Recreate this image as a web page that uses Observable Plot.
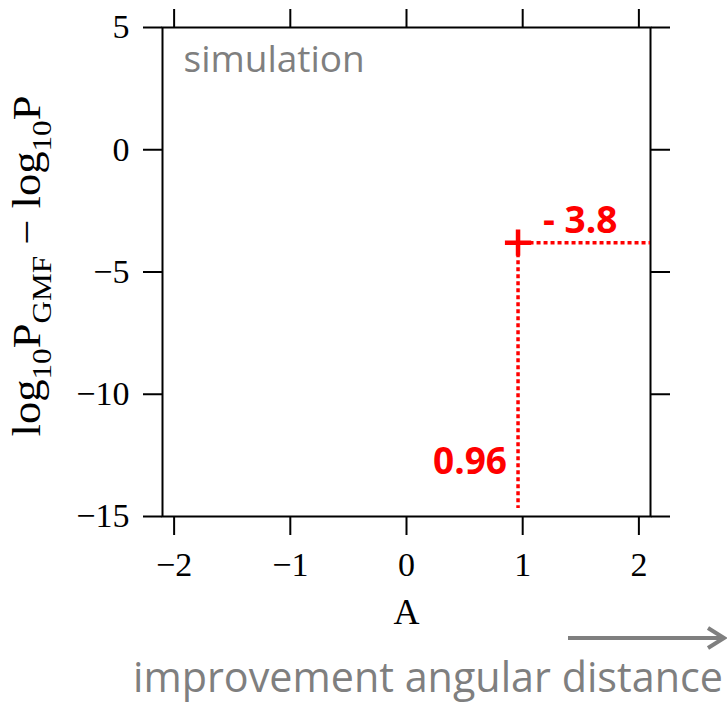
<!DOCTYPE html>
<html>
<head>
<meta charset="utf-8">
<script src="https://cdn.jsdelivr.net/npm/d3@7"></script>
<script src="https://cdn.jsdelivr.net/npm/@observablehq/plot@0.6"></script>
<style>
  body { margin: 0; background: #fff; }
  svg { display: block; }
</style>
</head>
<body>
<div id="chart"></div>
<script>
// Axis ranges and ticks
const xDomain = [-2.1, 2.1];
const yDomain = [-15, 5];
const xTicks = [-2, -1, 0, 1, 2];
const yTicks = [5, 0, -5, -10, -15];

// Best simulated configuration: A and log10 P_GMF − log10 P
const bestA = [0.96];
const bestDelta = [-3.8];

const points = bestA.map((a, i) => ({a, delta: bestDelta[i]}));

const serif = "'Liberation Serif', 'DejaVu Serif', serif";
const sans = "'Open Sans', 'Noto Sans', sans-serif";
const red = "#ff0000";
const gray = "#7f7f7f";
const fmt = d => (d < 0 ? "\u2212" + Math.abs(d) : String(d));

const plot = Plot.plot({
  width: 727,
  height: 703,
  marginLeft: 162,
  marginRight: 77,
  marginTop: 27,
  marginBottom: 187,
  x: {domain: xDomain},
  y: {domain: yDomain},
  style: {fontFamily: serif, color: "#000", background: "#fff"},
  marks: [
    Plot.frame({stroke: "#000", strokeWidth: 2}),
    Plot.axisX(xTicks, {anchor: "bottom", tickSize: 19, tickPadding: 16, strokeWidth: 2,
      tickFormat: fmt, fontSize: 34, fontFamily: serif, label: null}),
    Plot.axisX(xTicks, {anchor: "top", tickSize: 19, strokeWidth: 2, text: null, label: null}),
    Plot.axisY(yTicks, {anchor: "left", tickSize: 19, tickPadding: 14, strokeWidth: 2,
      tickFormat: fmt, fontSize: 34, fontFamily: serif, label: null}),
    Plot.axisY(yTicks, {anchor: "right", tickSize: 19, strokeWidth: 2, text: null, label: null}),
    // guide lines from the best point to the axes
    Plot.ruleX(points, {x: "a", y1: "delta", y2: yDomain[0], stroke: red, strokeWidth: 3.5,
      strokeDasharray: "4,3", insetTop: 11, insetBottom: 8}),
    Plot.ruleY(points, {y: "delta", x1: "a", x2: xDomain[1], stroke: red, strokeWidth: 3.5,
      strokeDasharray: "4,3", insetLeft: 12}),
    Plot.dot(points, {x: "a", y: "delta", symbol: "plus", r: 8.5, stroke: red, strokeWidth: 4.5}),
    // value labels
    Plot.text(points, {x: "a", frameAnchor: "bottom", text: d => d.a.toFixed(2),
      textAnchor: "end", lineAnchor: "middle", dx: -11, dy: -54,
      fill: red, fontWeight: "bold", fontSize: 37, fontFamily: sans}),
    Plot.text(points, {x: "a", y: "delta", text: d => (d.delta < 0 ? "- " : "") + Math.abs(d.delta).toFixed(1),
      textAnchor: "start", lineAnchor: "middle", dx: 25, dy: -22,
      fill: red, fontWeight: "bold", fontSize: 37, fontFamily: sans}),
    Plot.text(["simulation"], {frameAnchor: "top-left", text: d => d, textAnchor: "start",
      lineAnchor: "middle", dx: 21, dy: 33, fill: gray, fontSize: 37, fontFamily: sans}),
    Plot.text(["A"], {frameAnchor: "bottom", text: d => d, lineAnchor: "middle",
      dy: 96, fontSize: 36, fontFamily: serif, fill: "#000"})
  ]
});

const svg = d3.select(plot);

// y-axis title with subscripts
const yl = svg.append("text")
  .attr("transform", "translate(40,266) rotate(-90)")
  .attr("text-anchor", "middle")
  .attr("font-family", serif)
  .attr("font-size", 40)
  .attr("textLength", 341)
  .attr("lengthAdjust", "spacingAndGlyphs")
  .attr("fill", "#000");
const sub = 28, shift = 11;
yl.append("tspan").text("log");
yl.append("tspan").attr("font-size", sub).attr("dy", shift).text("10");
yl.append("tspan").attr("dy", -shift).text("P");
yl.append("tspan").attr("font-size", sub).attr("dy", shift).text("GMF");
yl.append("tspan").attr("dy", -shift).text(" \u2212 log");
yl.append("tspan").attr("font-size", sub).attr("dy", shift).text("10");
yl.append("tspan").attr("dy", -shift).text("P");

// direction arrow and caption beneath the chart
const arrow = svg.append("g").attr("stroke", gray).attr("stroke-width", 4).attr("fill", "none");
arrow.append("line").attr("x1", 568).attr("x2", 723).attr("y1", 638).attr("y2", 638);
arrow.append("polyline").attr("points", "708,628 724,638 708,648").attr("stroke-linejoin", "miter");

svg.append("text")
  .attr("x", 133)
  .attr("y", 692)
  .attr("text-anchor", "start")
  .attr("font-family", sans)
  .attr("font-size", 41.3)
  .attr("fill", gray)
  .text("improvement angular distance");

document.getElementById("chart").appendChild(plot);
</script>
</body>
</html>
